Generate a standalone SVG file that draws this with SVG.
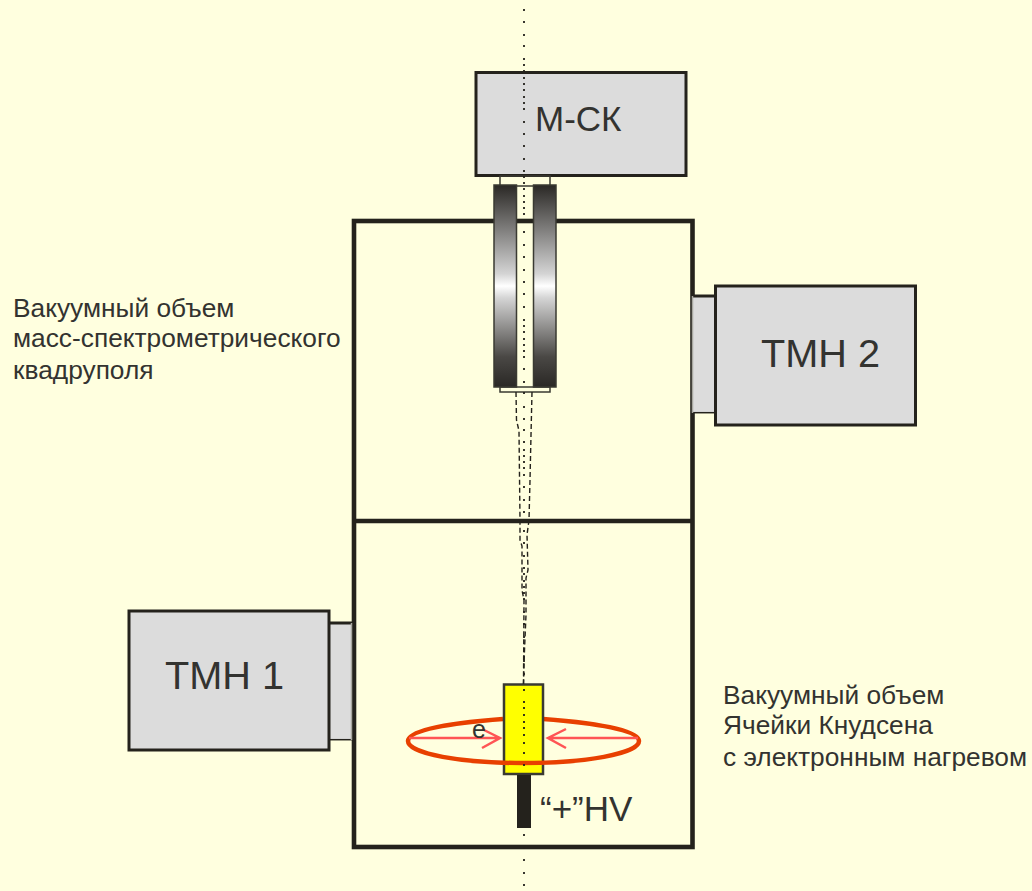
<svg xmlns="http://www.w3.org/2000/svg" width="1032" height="891" viewBox="0 0 1032 891">
<style>
.t{font-family:"Liberation Sans",Arial,sans-serif;fill:#333330}
.l{font-size:26.300px}
.b{fill:#dcdcdc;stroke:#24221c;stroke-width:3}
.w{fill:none;stroke:#24221c;stroke-width:4.600}
.d{fill:none;stroke:#24221c;stroke-width:1.400;stroke-dasharray:5 3}
.a{fill:none;stroke:#ff5555;stroke-width:2.500}
.s{fill:none;stroke:#3a3a32;stroke-width:1.500}
.e{fill:url(#g);stroke:#3a3a32;stroke-width:1.500}
.o{fill:none;stroke:#e84000;stroke-width:4.500}
</style>
<defs>
<linearGradient id="g" x1="0" y1="0" x2="0" y2="1">
<stop offset="0" stop-color="#2a2825"/><stop offset="0.44" stop-color="#d4d4d4"/><stop offset="0.5" stop-color="#ffffff"/><stop offset="0.56" stop-color="#d4d4d4"/><stop offset="0.85" stop-color="#4a4845"/><stop offset="1" stop-color="#2a2825"/>
</linearGradient>
</defs>
<rect width="1032" height="891" fill="#ffffdf"/>
<g id="chamber">
<rect class="w" x="354" y="221" width="338.500" height="626"/>
<line class="w" x1="354" y1="521" x2="693" y2="521"/>
</g>
<g id="msk">
<rect class="b" x="476" y="72.500" width="210" height="103"/>
<text class="t" x="535" y="131" font-size="35">М-СК</text>
</g>
<g id="quadrupole">
<rect class="s" x="500" y="176" width="50" height="10"/>
<rect class="s" x="500" y="387" width="50" height="5"/>
<rect class="e" x="494" y="185" width="22.500" height="202"/>
<rect class="e" x="533.500" y="185" width="22.500" height="202"/>
</g>
<g id="tmn2">
<rect x="692" y="296" width="23" height="117" fill="#dcdcdc"/>
<path d="M692 296H715" fill="none" stroke="#24221c" stroke-width="3"/>
<path d="M692 412.700H715" fill="none" stroke="#24221c" stroke-width="1.500"/>
<path d="M692.500 296V413" fill="none" stroke="#a8a8a0" stroke-width="1.500"/>
<rect class="b" x="715.500" y="286" width="200" height="139"/>
<text class="t" x="761" y="367" font-size="39.700">ТМН 2</text>
</g>
<g id="tmn1">
<rect x="329" y="623" width="22.500" height="117" fill="#dcdcdc"/>
<path d="M329 623H352" fill="none" stroke="#24221c" stroke-width="3"/>
<path d="M329 739.700H352" fill="none" stroke="#24221c" stroke-width="1.500"/>
<path d="M351.500 623V740" fill="none" stroke="#a8a8a0" stroke-width="1.500"/>
<rect class="b" x="129" y="611" width="200" height="139"/>
<text class="t" x="165" y="689" font-size="39.700">ТМН 1</text>
</g>
<g id="cell">
<path class="o" d="M503 719C450 723 408 730 408 741"/>
<path class="o" d="M543 719C596 723 639 730 639 741"/>
<rect x="504" y="684.500" width="39" height="89.500" fill="#ffff00" stroke="#3a3a32" stroke-width="2.500"/>
<rect x="517" y="775" width="14" height="53" fill="#24221c"/>
<path class="o" d="M408 741C408 754 462 763 523 763C584 763 639 754 639 741"/>
<path class="a" d="M409 738H499M482 729L500 738L482 748"/>
<path class="a" d="M638 738H548M566 729L548 738L566 748"/>
<text class="t" x="472" y="738" font-size="25">e</text>
<text class="t" x="540" y="821" font-size="35">“+”HV</text>
</g>
<g id="connectors">
<path fill="none" stroke="#24221c" stroke-width="1.800" d="M524 9v2M524 21v2M524 34v2M524 45v2M524 58v2M524 64v2M524 70v2M524 77v2M524 83v2M524 89v2M524 96v2M524 102v2M524 108v2M524 121v2M524 133v2M524 145v2M524 158v2M524 170v2M524 176v2M524 182v2M524 188v2M524 195v2M524 201v2M524 207v2M524 213v2M524 231v2M524 244v2M524 256v2M524 269v2M524 281v2M524 293v2M524 306v2M524 319v2M524 325v2M524 331v2M524 338v2M524 344v2M524 350v2M524 356v2M524 368v2M524 381v2M524 392v2M524 406v2M524 418v2M524 429v2M524 441v2M524 449v2M524 455v2M524 461v2M524 467v2M524 474v2M524 486v2M524 499v2M524 511v2M524 530v2M524 542v2M524 555v2M524 567v2M524 573v2M524 580v2M524 586v2M524 592v2M524 598v2M524 611v2M524 623v2M524 636v2M524 648v2M524 660v2M524 673v2M524 689v2M524 701v2M524 707v2M524 714v2M524 721v2M524 727v2M524 734v2M524 742v2M524 752v2M524 764v2M524 834v2M524 847v2M524 859v2M524 872v2M524 884v2"/>
<path class="d" d="M516 392L516.500 420L519 431L520 520L520 540L522 546L522 590L524 600L523.500 684"/>
<path class="d" d="M532 392L531 435L530 480L529 520L527 535L528 570L526 578L526 615L524.500 650L523.500 684"/>
</g>
<g id="labels">
<text class="t l" x="13" y="317">Вакуумный объем</text>
<text class="t l" x="13" y="347">масс-спектрометрического</text>
<text class="t l" x="13" y="379">квадруполя</text>
<text class="t l" x="723" y="704">Вакуумный объем</text>
<text class="t l" x="723" y="734">Ячейки Кнудсена</text>
<text class="t l" x="723" y="766">с электронным нагревом</text>
</g>
</svg>
